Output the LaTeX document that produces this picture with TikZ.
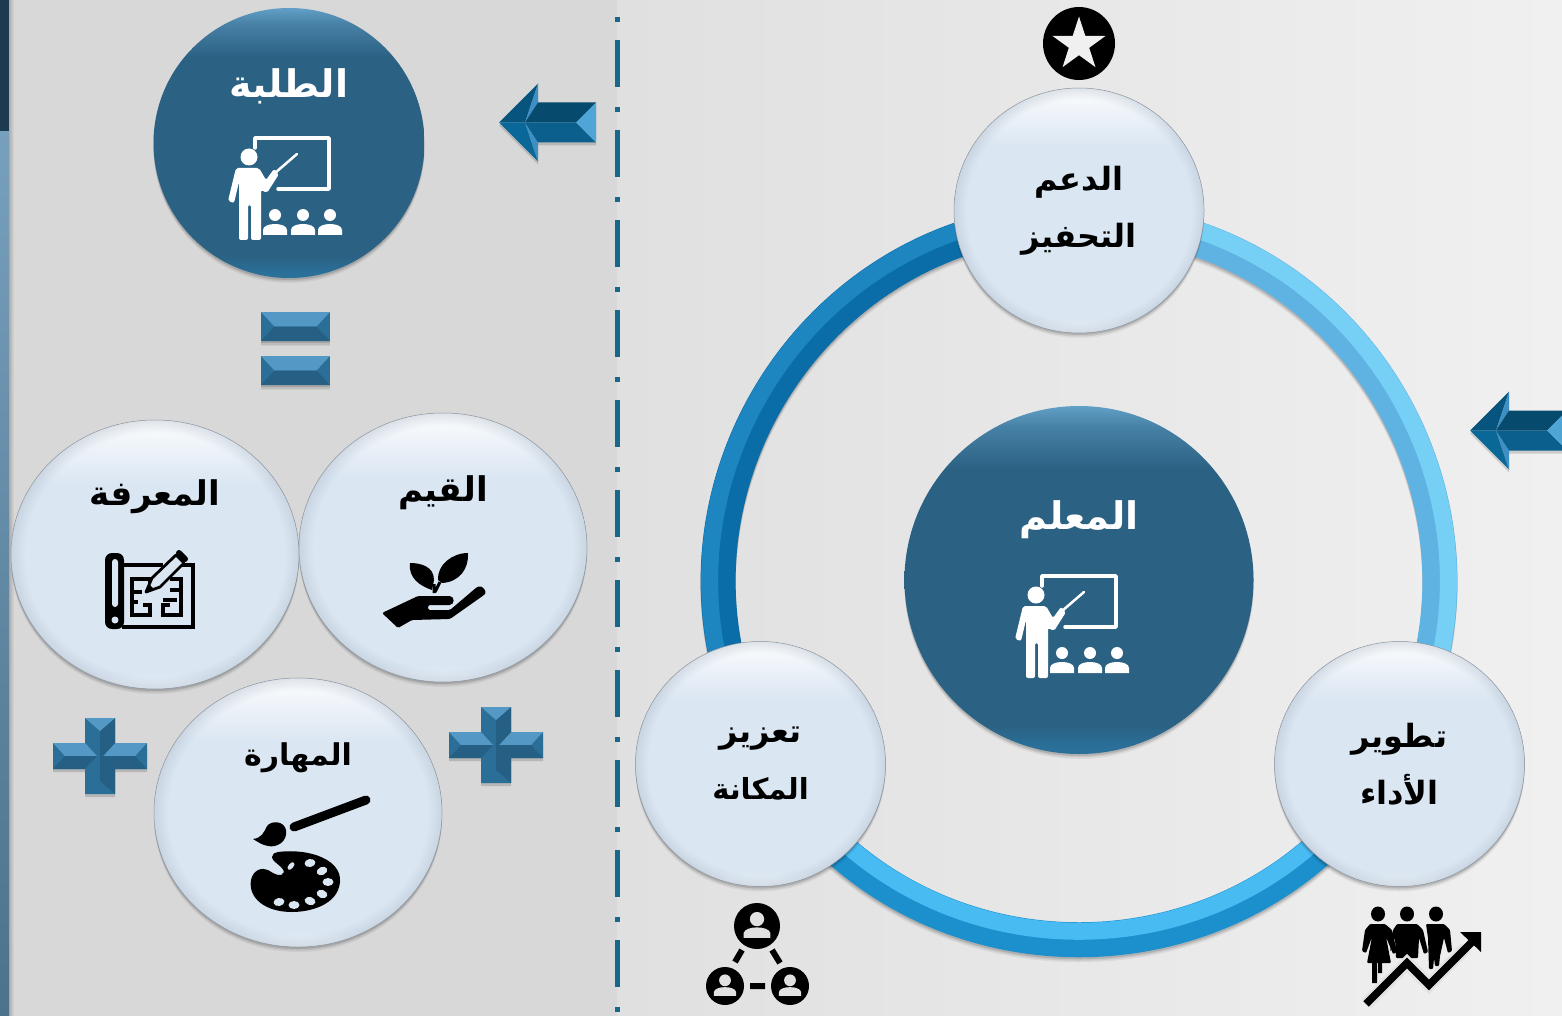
\documentclass[tikz,border=0pt]{standalone}
\usepackage{fontspec}
\newfontfamily\arabicfont[Script=Arabic]{DejaVu Sans}
\TeXXeTstate=1
\usetikzlibrary{positioning,shapes.geometric,shadows,fadings}
\def\artxt#1{\beginR #1\endR}

\definecolor{panelleft}{HTML}{D8D8D8}
\definecolor{panelmid}{HTML}{E0E0E0}
\definecolor{panelright}{HTML}{F0F0F0}
\definecolor{divblue}{HTML}{17688C}
\definecolor{stripdark}{HTML}{1C3A50}
\definecolor{stripblue}{HTML}{5F8FB0}
\definecolor{pale}{HTML}{DAE6F2}
\definecolor{rimblue}{HTML}{B4BFCD}
\definecolor{dark}{HTML}{2B6284}
\definecolor{darkhi}{HTML}{629FC6}
\definecolor{darklow}{HTML}{2A7099}
\definecolor{bevellight}{HTML}{5499C5}
\definecolor{bevelmid}{HTML}{2B6F99}
\definecolor{beveldark}{HTML}{265F84}
\definecolor{ringdark}{HTML}{0A6DA8}
\definecolor{ringdarkhi}{HTML}{1D86C0}
\definecolor{ringmid}{HTML}{1B90CD}
\definecolor{ringmidhi}{HTML}{48BBF2}
\definecolor{ringlight}{HTML}{5FB3E3}
\definecolor{ringlighthi}{HTML}{76D0F6}
\definecolor{headtop}{HTML}{07557F}
\definecolor{headlow}{HTML}{0A6898}
\definecolor{headlight}{HTML}{3D8FC4}
\definecolor{bodytop}{HTML}{064A6E}
\definecolor{bodylow}{HTML}{0A5F8C}
\definecolor{headend}{HTML}{4FA6D6}

\pgfdeclareverticalshading{palecap}{100bp}{color(0bp)=(pale!60!white); color(25.5bp)=(pale!60!white); color(28bp)=(pale); color(63bp)=(pale); color(71bp)=(pale!40!white); color(75bp)=(white); color(100bp)=(white)}
\pgfdeclareverticalshading{darkcap}{100bp}{color(0bp)=(darklow); color(26bp)=(darklow); color(29bp)=(dark); color(66bp)=(dark); color(72bp)=(darkhi!50!dark); color(75bp)=(darkhi); color(100bp)=(darkhi)}
\pgfdeclareradialshading{rimradial}{\pgfpoint{0bp}{0bp}}{color(0bp)=(pgftransparent!100); color(22.5bp)=(pgftransparent!100); color(25bp)=(pgftransparent!55); color(50bp)=(pgftransparent!55)}
\pgfdeclarefading{rimfade}{\pgfuseshading{rimradial}}

\tikzset{
  softshadow/.style={
    general shadow={shadow yshift=-5pt,fill=black,opacity=.05},
    general shadow={shadow yshift=-3.5pt,fill=black,opacity=.08},
    general shadow={shadow yshift=-2pt,fill=black,opacity=.12}},
  teacher/.pic={
    \draw[white,line width=3.5,line join=round,line cap=round] (-34,-5) -- (-34,5) -- (40,5) -- (40,-46) -- (-11,-46);
    \fill[white] (-40,-14) circle (8.5);
    \fill[white,rounded corners=2] (-53,-25) -- (-61,-58) -- (-55,-60) -- (-50,-39) -- (-50,-97) -- (-41,-97) -- (-41,-62) -- (-38,-62) -- (-38,-97) -- (-28,-97) -- (-28,-47) -- (-22,-50) -- (-10,-31) -- (-15,-26) -- (-23,-37) -- (-30,-25) -- cycle;
    \draw[white,line width=2.5,line cap=round] (-14,-30) -- (8,-11);
    \foreach \p in {-14,14,41}{
      \fill[white] (\p,-72) circle (6);
      \fill[white] (\p-12,-92) -- (\p-12,-87) .. controls (\p-12,-79) and (\p+12,-79) .. (\p+12,-87) -- (\p+12,-92) -- cycle;
    }
  },
  bevelplus/.pic={
    \fill[black,opacity=.15] (-15,35) -- (15,35) -- (15,10) -- (47,10) -- (47,-16) -- (15,-16) -- (15,-41) -- (-15,-41) -- (-15,-16) -- (-47,-16) -- (-47,10) -- (-15,10) -- cycle;
    \fill[bevelmid] (-15,38) -- (15,38) -- (15,13) -- (47,13) -- (47,-13) -- (15,-13) -- (15,-38) -- (-15,-38) -- (-15,-13) -- (-47,-13) -- (-47,13) -- (-15,13) -- cycle;
    \fill[bevellight] (-47,13) -- (-15,13) -- (-3,0) -- (-35,0) -- cycle;
    \fill[bevellight] (47,13) -- (15,13) -- (3,0) -- (35,0) -- cycle;
    \fill[beveldark] (-47,-13) -- (-15,-13) -- (-3,0) -- (-35,0) -- cycle;
    \fill[beveldark] (47,-13) -- (15,-13) -- (3,0) -- (35,0) -- cycle;
    \fill[beveldark] (0,25) -- (15,38) -- (15,13) -- (3,0) -- (15,-13) -- (15,-38) -- (0,-25) -- cycle;
    \fill[bevellight] (-15,38) -- (15,38) -- (0,25) -- cycle;
  },
  bevelarrow/.pic={
    \fill[black,opacity=.15] (0,-3) -- (39,36) -- (39,17) -- (97,17) -- (97,-23) -- (39,-23) -- (39,-42) -- cycle;
    \fill[headtop] (0,0) -- (39,39) -- (26,0) -- cycle;
    \fill[headlow] (0,0) -- (39,-39) -- (26,0) -- cycle;
    \fill[headlight] (39,39) -- (26,0) -- (39,20) -- cycle;
    \fill[headlight] (39,-39) -- (26,0) -- (39,-20) -- cycle;
    \fill[bodytop] (39,20) -- (97,20) -- (77,0) -- (26,0) -- cycle;
    \fill[bodylow] (39,-20) -- (97,-20) -- (77,0) -- (26,0) -- cycle;
    \fill[headend] (97,20) -- (97,-20) -- (77,0) -- cycle;
  }
}

\begin{document}
\begin{tikzpicture}[x=1pt,y=1pt]
\tikzstyle{palecircle}=[ellipse, inner sep=0, outer sep=0, shading=palecap, draw=rimblue!70!black, line width=.5pt, softshadow, postaction={fill=rimblue,path fading=rimfade}]
\tikzstyle{darkcircle}=[ellipse, inner sep=0, outer sep=0, shading=darkcap, softshadow]
\tikzstyle{small}=[palecircle, minimum width=250pt, minimum height=245pt, align=center, font=\arabicfont\bfseries\fontsize{32}{57}\selectfont]
\tikzstyle{big}=[palecircle, minimum width=288pt, minimum height=269pt]
\tikzstyle{whitetext}=[text=white, inner sep=0, font=\arabicfont\bfseries\fontsize{38}{44}\selectfont]
\tikzstyle{blacktext}=[text=black, inner sep=0, font=\arabicfont\bfseries\fontsize{34}{40}\selectfont]
\tikzstyle{bevelbar}=[rectangle, inner sep=0, outer sep=0, minimum width=69pt, minimum height=29pt, fill=bevelmid, softshadow, path picture={
  \begin{scope}[shift={(path picture bounding box.center)}]
    \fill[bevellight] (-34.5,14.5) -- (34.5,14.5) -- (21,0) -- (-21,0) -- cycle;
    \fill[beveldark] (-34.5,-14.5) -- (34.5,-14.5) -- (21,0) -- (-21,0) -- cycle;
  \end{scope}}]

  \useasboundingbox (0,0) rectangle (1562,-1016);
  \clip (0,0) rectangle (1562,-1016);

  \fill[panelleft] (0,0) rectangle (617,-1016);
  \shade[left color=panelmid, right color=panelright] (617,0) rectangle (1562,-1016);
  \shade[left color=panelleft!80!black, right color=panelleft] (9,0) rectangle (14,-1016);
  \fill[stripdark] (0,0) rectangle (9,-132);
  \shade[top color=stripblue!85!white, bottom color=stripblue!80!black] (0,-132) rectangle (9,-1016);

  \coordinate (divtop) at (617.5,-17);
  \coordinate (divbottom) at (617.5,-1016);
  \draw[divblue, line width=5.5pt, dash pattern=on 5pt off 18pt on 47pt off 20pt] (divtop) -- (divbottom);

  \coordinate (ringc) at (1079,-580);
  \foreach \s/\e/\o/\i/\base/\high/\rh in {90/210/180/120/ringdark/ringdarkhi/369, 210/330/300/240/ringmid/ringmidhi/352, 330/450/60/0/ringlight/ringlighthi/369}{
    \foreach \d/\w in {5/.06,3.5/.08,2/.12}
      \draw[black, opacity=\w, line width=35pt] ([shift={(\s:360.5)},yshift=-\d pt]ringc) to[out=\o,in=\i,looseness=1.135] ([shift={(\e:360.5)},yshift=-\d pt]ringc);
    \draw[\base, line width=35pt] ([shift={(\s:360.5)}]ringc) to[out=\o,in=\i,looseness=1.135] ([shift={(\e:360.5)}]ringc);
    \draw[\high, line width=17pt] ([shift={(\s:\rh)}]ringc) to[out=\o,in=\i,looseness=1.135] ([shift={(\e:\rh)}]ringc);
  }

  \node[darkcircle, minimum width=349pt, minimum height=348pt] (mualim) at (1079,-580) {};
  \node[whitetext, yshift=60pt] (mualimtext) at (mualim) {\artxt{المعلم}};
  \pic (mualimicon) at ([shift={(-3,-1)}]mualim) {teacher};

  \node[small, above=73pt of mualim] (daam) {\artxt{الدعم}\\\artxt{التحفيز}};
  \node[small, left=19pt of mualim, yshift=-184pt] (taziz) {\artxt{تعزيز}\\{\fontsize{29}{57}\selectfont\artxt{المكانة}}};
  \node[small, right=21pt of mualim, yshift=-184pt] (tatwir) {\artxt{تطوير}\\\artxt{الأداء}};

  \node[ellipse, fill=black, inner sep=0, outer sep=0, minimum width=72pt, minimum height=73pt, above=8pt of daam] (badge) {};
  \node[star, star points=5, star point ratio=2.618, fill=panelright, inner sep=0, minimum size=56pt] (badgestar) at ([yshift=-1pt]badge) {};

  \node[darkcircle, minimum width=271pt, minimum height=270pt] (talaba) at (289,-143) {};
  \node[whitetext, yshift=57pt] (talabatext) at (talaba) {\artxt{الطلبة}};
  \pic (talabaicon) at (talaba) {teacher};

  \node[bevelbar] (equalup) [below=34pt of talaba, xshift=6.5pt] {};
  \node[bevelbar] (equaldown) [below=15pt of equalup] {};

  \node[big] (marifa) at (155,-554.5) {};
  \node[big, right=0pt of marifa, yshift=7pt] (qiyam) {};
  \node[big, below=-11pt of marifa, xshift=143pt] (mahara) {};
  \node[blacktext, yshift=58pt] (marifatext) at (marifa) {\artxt{المعرفة}};
  \node[blacktext, yshift=55pt] (qiyamtext) at (qiyam) {\artxt{القيم}};
  \node[blacktext, yshift=55pt] (maharatext) at (mahara) {\fontsize{30}{36}\selectfont\artxt{المهارة}};

  \pic (plusleft) at (100,-756) {bevelplus};
  \pic (plusright) at (496,-745) {bevelplus};
  \pic (arrowtalaba) at (499,-122.5) {bevelarrow};
  \pic (arrowmualim) at (1470,-430.5) {bevelarrow};

  % blueprint
  \fill[rounded corners=7pt] (105,-553) rectangle (124,-629);
  \fill[pale,rounded corners=3pt] (112,-559) rectangle (118,-607);
  \fill[pale] (115,-620) circle (3.5);
  \draw[line width=4.5pt,line join=miter] (122,-565) -- (163,-565);
  \draw[line width=4.5pt,line join=miter] (180,-565) -- (193,-565) -- (193,-627) -- (122,-627);
  \draw[line width=3.2pt] (143,-605) -- (150,-605) -- (150,-615) -- (132,-615) -- (132,-579) -- (150,-579) -- (150,-585);
  \draw[line width=3.2pt] (132,-592) -- (142,-592) (132,-602) -- (138,-602);
  \draw[line width=3.2pt] (170,-579) -- (181,-579) -- (181,-615) -- (163,-615) -- (163,-605) -- (170,-605);
  \draw[line width=3.2pt] (163,-600) -- (177,-600) (170,-590) -- (181,-590);
  \draw[line width=2.8pt,fill=pale,line join=round] (146,-592) -- (152,-578) -- (176,-555) -- (184,-563) -- (160,-587) -- cycle;
  \fill (146,-592) -- (149,-584) -- (154,-589) -- cycle;
  \draw[line width=6pt,line cap=round] (179,-553) -- (185,-559);

  % plant in hand
  \fill (432,-590) .. controls (420,-586) and (408,-578) .. (410,-563) .. controls (420,-563) and (434,-566) .. (434,-580) -- cycle;
  \fill (438,-580) .. controls (437,-565) and (452,-553) .. (468,-553) .. controls (469,-568) and (460,-582) .. (442,-583) -- cycle;
  \draw[line width=3pt] (434,-593) -- (434,-584) (435,-592) -- (440,-582);
  \fill[rounded corners=1.5pt] (382,-613) -- (418,-596) -- (448,-596) .. controls (455,-596) and (455,-605) .. (448,-605) -- (428,-605) -- (428,-610) -- (450,-610) -- (477,-587) .. controls (483,-585) and (487,-592) .. (484,-595) -- (450,-619) -- (412,-620) -- (398,-628) -- cycle;

  % brush and palette
  \draw[line width=9pt,line cap=round] (294,-827) -- (366,-800);
  \fill (253,-839) .. controls (262,-838) and (264,-832) .. (267,-826) .. controls (272,-820) and (284,-821) .. (286,-830) .. controls (288,-842) and (276,-848) .. (268,-846) .. controls (262,-845) and (258,-842) .. (253,-839) -- cycle;
  \fill (278,-852) .. controls (310,-848) and (342,-860) .. (340,-882) .. controls (338,-905) and (310,-912) .. (292,-912) .. controls (265,-912) and (248,-898) .. (251,-880) .. controls (253,-870) and (262,-867) .. (268,-870) .. controls (274,-874) and (282,-878) .. (284,-872) .. controls (283,-866) and (272,-862) .. (272,-857) .. controls (272,-854) and (275,-852) .. (278,-852) -- cycle;
  \foreach \hx/\hy/\ha in {310/863/10,322/871/25,328/882/0,322/894/-20,310/901/-15,294/905/0,279/902/10}
    \fill[pale, rotate around={\ha:(\hx,-\hy)}] (\hx,-\hy) ellipse (5.5 and 4);
  \fill[pale, rotate around={50:(291,-866)}] (291,-866) ellipse (4.5 and 2.5);

  % people and rising line
  \foreach \hx in {1378,1407,1436}
    \fill (\hx,-914) ellipse (7 and 7.5);
  \fill[rounded corners=1pt] (1370,-924) -- (1385,-924) -- (1392,-930) -- (1397,-952) -- (1393,-954) -- (1386,-937) -- (1391,-963) -- (1367,-963) -- (1372,-937) -- (1366,-953) -- (1362,-951) -- (1365,-930) -- cycle;
  \fill (1372,-963) rectangle (1377,-983) (1378,-963) rectangle (1382,-973);
  \fill[rounded corners=1pt] (1397,-924) -- (1417,-924) -- (1423,-930) -- (1428,-952) -- (1424,-954) -- (1419,-938) -- (1418,-958) -- (1396,-958) -- (1395,-938) -- (1390,-952) -- (1393,-930) -- cycle;
  \fill[rounded corners=1pt] (1426,-924) -- (1444,-924) -- (1450,-930) -- (1452,-951) -- (1448,-953) -- (1444,-938) -- (1440,-956) -- (1439,-966) -- (1435,-966) -- (1434,-958) -- (1433,-969) -- (1429,-969) -- (1428,-938) -- cycle;
  \draw[panelright!94!black, line width=13pt, line join=miter] (1366,-1004) -- (1407,-963) -- (1429,-985) -- (1466,-948);
  \draw[line width=7.5pt, line join=miter] (1366,-1004) -- (1407,-963) -- (1429,-985) -- (1472,-942);
  \fill (1460,-932) -- (1481,-932) -- (1481,-952) -- cycle;

  % three linked people
  \foreach \lx/\ly/\lr in {757/926/23,725/986/19,790/986/19}{
    \fill (\lx,-\ly) circle (\lr);
    \fill[panelmid!95!white] (\lx,{-\ly+.3*\lr}) circle ({.31*\lr});
    \fill[panelmid!95!white] ({\lx-.58*\lr},{-\ly-.52*\lr}) -- ({\lx-.58*\lr},{-\ly-.3*\lr}) .. controls ({\lx-.5*\lr},{-\ly+.02*\lr}) and ({\lx+.5*\lr},{-\ly+.02*\lr}) .. ({\lx+.58*\lr},{-\ly-.3*\lr}) -- ({\lx+.58*\lr},{-\ly-.52*\lr}) -- cycle;
  }
  \draw[line width=6pt] (735,-962) -- (742,-950) (772,-950) -- (780,-963) (750,-986) -- (765,-986);
\end{tikzpicture}
\end{document}
